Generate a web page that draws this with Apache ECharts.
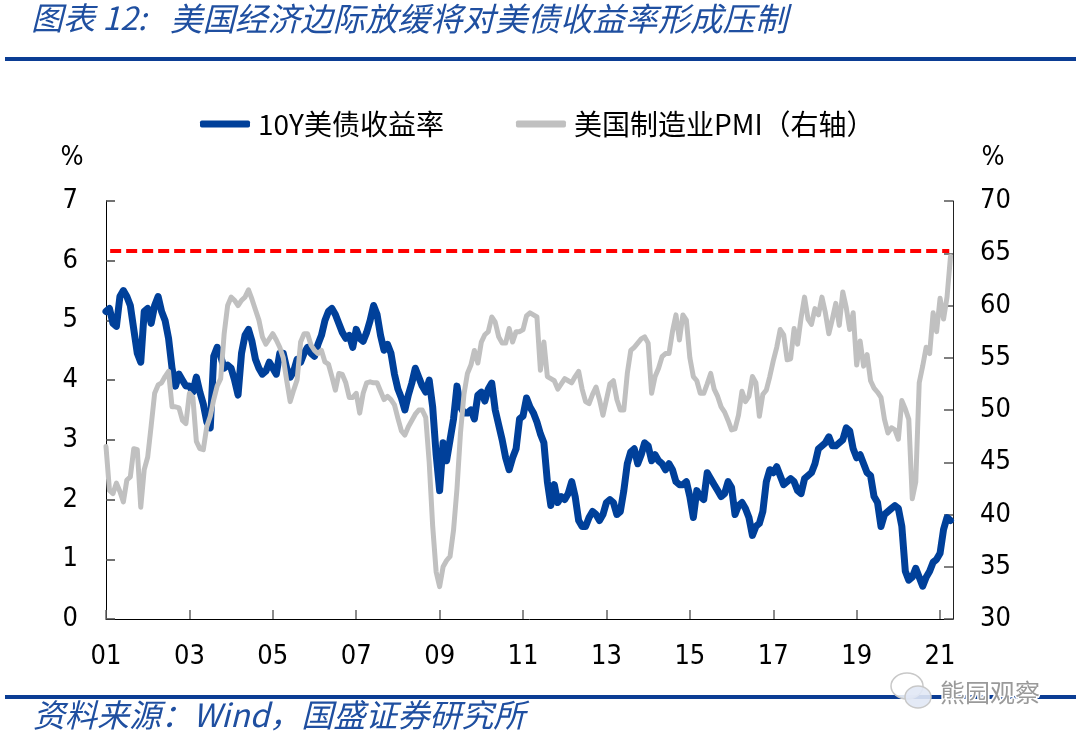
<!DOCTYPE html>
<html>
<head>
<meta charset="utf-8">
<script src="https://cdn.jsdelivr.net/npm/echarts@6/dist/echarts.min.js"></script>
<style>
html,body{margin:0;padding:0;background:#ffffff;}
#c{width:1076px;height:739px;}
</style>
</head>
<body>
<div id="c"></div>
<script>
// ---------- texts ----------
const titleLabel = '图表 12:';
const titleText = '美国经济边际放缓将对美债收益率形成压制';
const sourceText = '资料来源：Wind，国盛证券研究所';
const watermarkText = '熊园观察';
const seriesNames = ['10Y美债收益率', '美国制造业PMI（右轴）'];

// ---------- axes ----------
const xTickLabels = ['01','03','05','07','09','11','13','15','17','19','21'];
const leftTicks = [0, 1, 2, 3, 4, 5, 6, 7];
const rightTicks = [30, 35, 40, 45, 50, 55, 60, 65, 70];
const refLevelRight = 65.2;   // red dashed reference level (right axis)

// ---------- data (monthly, first point = end of Dec 2000) ----------
const firstMonth = { year: 2000, month: 12 };

const yield10y = [
  5.15, 5.20, 4.95, 4.90, 5.40, 5.50, 5.40, 5.25, 4.85, 4.45, 4.30, 5.15,
  5.20, 4.95, 5.25, 5.40, 5.15, 5.00, 4.70, 4.20, 3.90, 4.10, 4.00, 3.90,
  3.90, 3.80, 4.05, 3.80, 3.60, 3.30, 3.20, 4.40, 4.55, 4.40, 4.20, 4.25,
  4.20, 4.00, 3.75, 4.45, 4.75, 4.85, 4.65, 4.35, 4.20, 4.10, 4.15, 4.30,
  4.20, 4.10, 4.45, 4.45, 4.20, 4.05, 4.15, 4.35, 4.30, 4.45, 4.55, 4.45,
  4.40, 4.60, 4.75, 5.00, 5.15, 5.20, 5.10, 4.95, 4.80, 4.70, 4.75, 4.55,
  4.85, 4.70, 4.65, 4.80, 5.00, 5.25, 5.10, 4.75, 4.50, 4.60, 4.45, 4.10,
  3.85, 3.70, 3.50, 3.75, 3.95, 4.20, 4.05, 3.90, 3.80, 4.00, 3.55, 2.75,
  2.15, 2.95, 2.65, 3.00, 3.35, 3.90, 3.55, 3.45, 3.45, 3.50, 3.35, 3.75,
  3.80, 3.65, 3.85, 3.95, 3.50, 3.25, 3.00, 2.70, 2.50, 2.70, 2.85, 3.35,
  3.40, 3.70, 3.55, 3.45, 3.30, 3.10, 2.95, 2.30, 1.90, 2.25, 1.95, 2.05,
  2.00, 2.10, 2.30, 2.05, 1.65, 1.55, 1.55, 1.70, 1.80, 1.75, 1.65, 1.75,
  1.95, 2.00, 1.95, 1.75, 1.80, 2.15, 2.60, 2.80, 2.85, 2.60, 2.75, 2.95,
  2.90, 2.65, 2.75, 2.65, 2.60, 2.50, 2.60, 2.50, 2.30, 2.25, 2.25, 2.30,
  2.05, 1.70, 2.15, 2.05, 2.00, 2.45, 2.35, 2.25, 2.15, 2.05, 2.10, 2.30,
  2.20, 1.75, 1.90, 1.95, 1.85, 1.70, 1.40, 1.55, 1.60, 1.80, 2.30, 2.50,
  2.45, 2.55, 2.40, 2.25, 2.30, 2.35, 2.30, 2.15, 2.10, 2.35, 2.40, 2.45,
  2.60, 2.85, 2.90, 2.95, 3.05, 2.90, 2.90, 2.95, 3.00, 3.20, 3.15, 2.85,
  2.70, 2.75, 2.60, 2.45, 2.40, 2.05, 1.95, 1.55, 1.75, 1.80, 1.85, 1.90,
  1.85, 1.55, 0.80, 0.65, 0.70, 0.85, 0.70, 0.55, 0.70, 0.80, 0.95, 1.00,
  1.10, 1.50, 1.70, 1.65
];

const pmi = [
  46.5, 42.3, 42.0, 43.0, 42.2, 41.2, 43.3, 43.6, 46.3, 46.2, 40.7, 44.3,
  45.5, 48.5, 51.6, 52.4, 52.6, 53.2, 53.7, 50.3, 50.3, 50.2, 49.0, 48.7,
  51.6, 51.2, 47.0, 46.3, 46.2, 48.4, 49.4, 51.0, 52.3, 53.0, 57.3, 60.0,
  60.8, 60.5, 60.0, 60.5, 60.8, 61.5, 60.6, 59.6, 58.6, 57.0, 56.3, 56.8,
  57.3, 56.7, 56.0, 55.0, 52.8, 50.8, 51.9, 52.9, 56.5, 57.3, 57.3, 56.2,
  55.7, 55.4, 55.7, 54.6, 54.4, 53.2, 51.9, 53.5, 53.4, 52.6, 51.2, 51.2,
  51.6, 49.7, 51.6, 52.6, 52.7, 52.6, 52.6, 51.8, 51.0, 51.3, 51.0, 50.5,
  49.2, 48.0, 47.6, 48.4, 49.0, 49.6, 50.0, 50.0, 49.3, 45.0, 38.9, 34.5,
  33.1, 35.0, 35.6, 36.0, 38.5, 42.5, 47.8, 51.5, 53.5, 54.3, 55.7, 54.5,
  56.5, 57.2, 57.5, 58.9, 58.4, 57.0, 56.4, 56.4, 57.8, 56.5, 57.5, 57.5,
  57.7, 59.0, 59.3, 59.1, 58.9, 53.8, 56.5, 53.2, 53.0, 52.8, 52.0, 52.5,
  53.0, 52.8, 52.6, 53.2, 53.7, 52.0, 50.8, 50.6, 51.5, 52.2, 51.0, 49.5,
  51.0, 52.5, 52.8, 51.0, 50.0, 50.0, 53.5, 55.7, 56.0, 56.4, 56.8, 57.0,
  56.4, 51.6, 53.2, 54.0, 55.1, 55.4, 55.4, 57.5, 59.1, 56.7, 59.1, 58.6,
  55.0, 53.2, 52.8, 51.6, 51.6, 52.5, 53.5, 52.0, 51.3, 50.3, 49.8, 49.0,
  48.1, 48.2, 49.5, 51.8, 50.8, 51.3, 53.2, 52.6, 49.4, 51.5, 51.9, 53.2,
  54.7, 56.0, 57.7, 57.2, 54.8, 54.9, 57.8, 56.3, 58.8, 60.8, 58.7, 58.2,
  59.7, 59.1, 60.8, 59.3, 57.3, 58.7, 60.2, 58.1, 61.3, 59.8, 57.7, 59.3,
  54.3, 56.6, 54.2, 55.3, 52.8, 52.1, 51.7, 51.2, 49.1, 47.8, 48.3, 48.1,
  47.2, 50.9, 50.1, 49.1, 41.5, 43.1, 52.6, 54.2, 56.0, 55.4, 59.3, 57.5,
  60.7, 58.7, 60.8, 64.7
];

// month-end position as decimal year
function monthPos(i) {
  return firstMonth.year + (firstMonth.month + i) / 12;
}
const yieldData = yield10y.map((v, i) => [monthPos(i), v]);
const pmiData = pmi.map((v, i) => [monthPos(i), v]);

const xMin = 2001, xMax = 2021.31;
const blue = '#00409A';
const gray = '#C0C0C0';
const navy = '#0B3D94';
const titleBlue = '#1F4FA0';
const labelFont = '"DejaVu Sans Condensed", "DejaVu Sans", "Liberation Sans", sans-serif';
const cjkFont = '"Noto Sans CJK SC", "Noto Sans", sans-serif';

const chart = echarts.init(document.getElementById('c'), null, { renderer: 'canvas' });

chart.setOption({
  backgroundColor: '#ffffff',
  animation: false,
  grid: { left: 106, top: 201, width: 847, height: 418, containLabel: false },
  legend: {
    left: 195,
    top: 105,
    itemWidth: 50,
    itemHeight: 7,
    itemGap: 72,
    icon: 'roundRect',
    textStyle: { fontSize: 28, color: '#000', fontFamily: cjkFont, padding: [0, 0, 0, 3] },
    data: seriesNames
  },
  xAxis: {
    type: 'value',
    min: xMin,
    max: xMax,
    interval: 2,
    splitLine: { show: false },
    axisLine: { show: true, onZero: false, lineStyle: { color: '#000', width: 1 } },
    axisTick: { show: true, inside: true, length: 9, lineStyle: { color: '#666', width: 1.5 } },
    axisLabel: {
      margin: 24,
      fontSize: 27,
      color: '#000',
      fontFamily: labelFont,
      showMaxLabel: false,
      formatter: function (v) {
        const k = (v - xMin) / 2;
        if (Math.abs(k - Math.round(k)) > 1e-6) return '';
        return xTickLabels[Math.round(k)] || '';
      }
    }
  },
  yAxis: [
    {
      type: 'value',
      min: leftTicks[0],
      max: leftTicks[leftTicks.length - 1],
      interval: 1,
      position: 'left',
      splitLine: { show: false },
      axisLine: { show: true, lineStyle: { color: '#000', width: 1 } },
      axisTick: { show: true, inside: true, length: 9, lineStyle: { color: '#444', width: 1.5 } },
      axisLabel: { margin: 28, fontSize: 27, color: '#000', fontFamily: labelFont }
    },
    {
      type: 'value',
      min: rightTicks[0],
      max: rightTicks[rightTicks.length - 1],
      interval: 5,
      position: 'right',
      splitLine: { show: false },
      axisLine: { show: true, lineStyle: { color: '#222', width: 1 } },
      axisTick: { show: true, inside: true, length: 9, lineStyle: { color: '#555', width: 1.5 } },
      axisLabel: { margin: 27, fontSize: 27, color: '#000', fontFamily: labelFont }
    }
  ],
  series: [
    {
      name: seriesNames[0],
      type: 'line',
      yAxisIndex: 0,
      data: yieldData,
      showSymbol: false,
      symbol: 'none',
      color: blue,
      lineStyle: { color: blue, width: 7, cap: 'round', join: 'round' },
      z: 3
    },
    {
      name: seriesNames[1],
      type: 'line',
      yAxisIndex: 1,
      data: pmiData,
      showSymbol: false,
      symbol: 'none',
      color: gray,
      lineStyle: { color: gray, width: 5, cap: 'round', join: 'round' },
      z: 4,
      markLine: {
        silent: true,
        symbol: ['none', 'none'],
        label: { show: false },
        lineStyle: { color: '#FF0000', width: 4, type: [11, 5] },
        data: [[{ coord: [2001.1, refLevelRight] }, { coord: [2021.22, refLevelRight] }]]
      }
    }
  ],
  graphic: [
    { type: 'text', left: 31, top: 2, style: { text: titleLabel, fill: titleBlue, fontSize: 32, fontStyle: 'italic', fontFamily: cjkFont } },
    { type: 'text', left: 170, top: 2, style: { text: titleText, fill: titleBlue, fontSize: 32.5, fontStyle: 'italic', fontFamily: cjkFont } },
    { type: 'rect', shape: { x: 5, y: 57, width: 1071, height: 4 }, style: { fill: navy } },
    { type: 'text', x: 72, y: 158, style: { text: '%', fill: '#000', fontSize: 27, fontFamily: labelFont, align: 'center', verticalAlign: 'middle' } },
    { type: 'text', x: 993, y: 158, style: { text: '%', fill: '#000', fontSize: 27, fontFamily: labelFont, align: 'center', verticalAlign: 'middle' } },
    { type: 'rect', shape: { x: 5, y: 695, width: 1071, height: 4 }, style: { fill: navy } },
    { type: 'text', left: 33, top: 699, style: { text: sourceText, fill: titleBlue, fontSize: 32, fontStyle: 'italic', fontFamily: cjkFont } },
    { type: 'ellipse', shape: { cx: 907, cy: 686, rx: 16, ry: 13 }, style: { fill: 'rgba(255,255,255,0.85)', stroke: '#c8c8c8', lineWidth: 1.5 }, z: 10 },
    { type: 'ellipse', shape: { cx: 918, cy: 697, rx: 13, ry: 11 }, style: { fill: 'rgba(225,232,245,0.9)', stroke: '#c8c8c8', lineWidth: 1.5 }, z: 11 },
    { type: 'text', x: 940, y: 692, style: { text: watermarkText, fill: '#9a9a9a', stroke: '#ffffff', lineWidth: 3, fontSize: 25, fontFamily: cjkFont, verticalAlign: 'middle' }, z: 12 }
  ]
});
</script>
</body>
</html>
